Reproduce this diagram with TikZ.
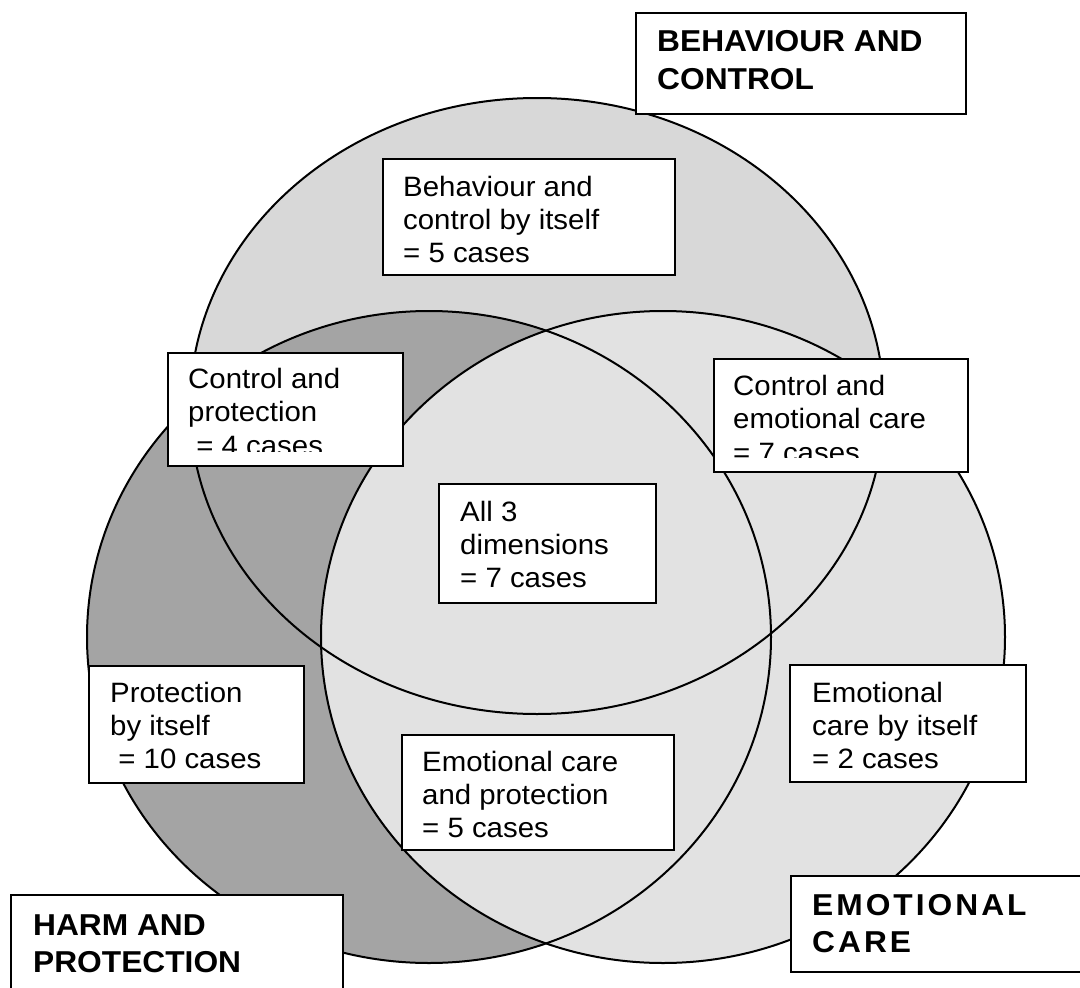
\documentclass[tikz,border=0pt]{standalone}
\usepackage{fontspec}
\setmainfont{Liberation Sans}[FakeStretch=1.05]
\newfontfamily\spacedfont{Liberation Sans}[FakeStretch=1.05, LetterSpace=10]
\definecolor{controlfill}{HTML}{D8D8D8}
\definecolor{harmfill}{HTML}{A4A4A4}
\definecolor{carefill}{HTML}{E2E2E2}
\newcommand\lines[1]{\begin{tabular}[t]{@{}l@{}}#1\end{tabular}}
\begin{document}
\begin{tikzpicture}[x=1pt,y=-1pt,
  ring/.style={draw=black, line width=2pt},
  box/.style={draw=black, line width=2pt, fill=white, rectangle,
    inner sep=0pt, anchor=north west},
  casetext/.style={anchor=base west, inner sep=0pt,
    font=\fontsize{28}{33}\selectfont},
  headtext/.style={anchor=base west, inner sep=0pt,
    font=\fontsize{30.2}{37.5}\selectfont\bfseries},
]
\useasboundingbox (0,0) rectangle (1080,988);
\clip (0,0) rectangle (1080,988);

% the three sets: fills first, outlines on top
\fill[controlfill] (537,406) ellipse [x radius=347, y radius=308];
\fill[harmfill]    (429,637) ellipse [x radius=342, y radius=326];
\fill[carefill]    (663,637) ellipse [x radius=342, y radius=326];
\draw[ring] (537,406) ellipse [x radius=347, y radius=308];
\draw[ring] (429,637) ellipse [x radius=342, y radius=326];
\draw[ring] (663,637) ellipse [x radius=342, y radius=326];

% set titles
\node[box, minimum width=330, minimum height=101] (bcbox) at (635,12) {};
\node[headtext] (bctext) at (657,51.7) {\lines{BEHAVIOUR AND\\CONTROL}};

\node[box, minimum width=332, minimum height=130] (hpbox) at (10,894) {};
\node[headtext] (hptext) at (33,935) {\lines{HARM AND\\PROTECTION}};

\node[box, minimum width=330, minimum height=96] (ecbox) at (790,875) {};
\node[headtext, font=\fontsize{30.2}{37.5}\selectfont\spacedfont\bfseries]
  (ectext) at (812,915) {\lines{EMOTIONAL\\CARE}};

% region counts
\node[box, minimum width=292, minimum height=116] (bcibox) at (382,158) {};
\node[casetext] (bcitext) at (403,196.7)
  {\lines{Behaviour and\\control by itself\\= 5 cases}};

\node[box, minimum width=235, minimum height=113] (cpbox) at (167,352) {};
\begin{scope}
  \clip (167,352) rectangle (402,451);
  \node[casetext] (cptext) at (188,388.3)
    {\lines{Control and\\protection\\[1.5pt]\ = 4 cases}};
\end{scope}

\node[box, minimum width=254, minimum height=113] (cecbox) at (713,358) {};
\begin{scope}
  \clip (713,358) rectangle (967,457);
  \node[casetext] (cectext) at (733,395)
    {\lines{Control and\\emotional care\\[1.5pt]= 7 cases}};
\end{scope}

\node[box, minimum width=217, minimum height=119] (allbox) at (438,483) {};
\node[casetext] (alltext) at (460,521.7)
  {\lines{All 3\\dimensions\\= 7 cases}};

\node[box, minimum width=215, minimum height=117] (pbox) at (88,665) {};
\node[casetext] (ptext) at (110,702)
  {\lines{Protection\\by itself\\\ = 10 cases}};

\node[box, minimum width=236, minimum height=117] (ecibox) at (789,664) {};
\node[casetext] (ecitext) at (812,702)
  {\lines{Emotional\\care by itself\\= 2 cases}};

\node[box, minimum width=272, minimum height=115] (ecpbox) at (401,734) {};
\node[casetext] (ecptext) at (422,771)
  {\lines{Emotional care\\and protection\\= 5 cases}};
\end{tikzpicture}
\end{document}
